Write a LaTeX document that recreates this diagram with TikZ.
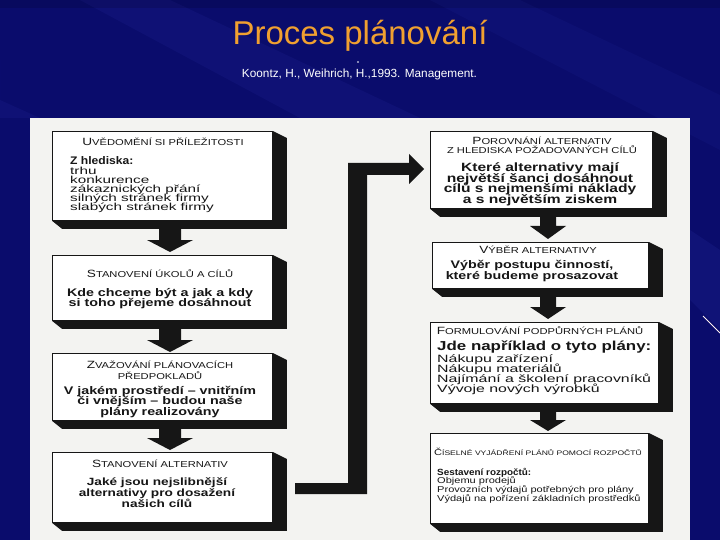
\documentclass[tikz,border=0pt]{standalone}
\usepackage{fontspec}
\setmainfont{Liberation Sans}
\newfontfamily\bxf[FakeStretch=1.3]{Liberation Sans}
\newfontfamily\bxw[FakeStretch=1.5]{Liberation Sans}
\newfontfamily\bxn[FakeStretch=1.1]{Liberation Sans}
\definecolor{bgblue}{RGB}{10,12,108}
\definecolor{streak}{RGB}{60,70,200}
\definecolor{titleor}{RGB}{240,160,48}
\definecolor{panel}{RGB}{243,243,241}
\definecolor{ink}{RGB}{22,22,22}
\def\scA{10.5}\def\scB{8.6}
\newcommand\scap[2]{{\fontsize{\scA}{\scA}\selectfont #1}{\fontsize{\scB}{\scB}\selectfont #2}}
\newcommand\mybox[5]{% name l t w h
  \node[box, minimum width=#4, minimum height=#5, anchor=north west] (#1) at (#2,#3) {};
  \fill[shadow] (#1.north east) -- ++(14,7) -- ([shift={(14,8)}]#1.south east)
     -- ([shift={(10,8)}]#1.south west) -- (#1.south west) -- (#1.south east) -- cycle;}
\newcommand\blkarrow[6]{% cx y1 y2 y3 sw hw
  \fill[shadow] ({#1-#5},#2) -- ({#1+#5},#2) -- ({#1+#5},#3) -- ({#1+#6},#3) -- (#1,#4)
     -- ({#1-#6},#3) -- ({#1-#5},#3) -- cycle;}
\begin{document}
\begin{tikzpicture}[x=1pt,y=-1pt,
  box/.style={draw=ink, line width=0.8pt, fill=white, inner sep=0},
  shadow/.style={fill=ink},
  ttl/.style={font=\bxf, text=ink, anchor=base, inner sep=0},
  bl/.style={anchor=base west, inner sep=0, text=ink},
  bc/.style={anchor=base, inner sep=0, text=ink}]
\useasboundingbox (0,0) rectangle (720,540);
% background
\fill[bgblue] (0,0) rectangle (720,540);
\fill[streak, opacity=0.10] (80,0) -- (170,0) -- (420,118) -- (300,118) -- cycle;
\fill[streak, opacity=0.08] (430,0) -- (520,0) -- (720,95) -- (720,150) -- cycle;
\fill[streak, opacity=0.10] (0,60) -- (0,100) -- (40,118) -- (0,118) -- cycle;
\fill[streak, opacity=0.12] (690,230) -- (720,250) -- (720,330) -- (690,300) -- cycle;
\fill[black, opacity=0.12] (0,0) rectangle (720,8);
\draw[white!80!pink, line width=0.8pt] (703,316) -- (720,333);
% title
\node[font=\fontsize{33}{33}\selectfont, text=titleor, anchor=base, inner sep=0] (title) at (360,45) {Proces plánování};
\node[circle, fill=white, inner sep=0, minimum size=1.8] (dot) at (358,62) {};
\node[font=\fontsize{11.8}{12}\selectfont, text=white, anchor=base, inner sep=0] (sub) at (359.5,78) {Koontz, H., Weihrich, H.,1993. Management.};
% panel
\fill[panel] (30,118) rectangle (690,540);
% boxes
\mybox{L1}{52}{131}{220}{89}
\mybox{L2}{52}{255}{220}{65}
\mybox{L3}{52}{353}{220}{67}
\mybox{L4}{52}{452}{220}{70}
\mybox{R1}{430}{131}{222}{77}
\mybox{R2}{432}{242}{216}{46}
\mybox{R3}{430}{322}{228}{81}
\mybox{R4}{430}{433}{218}{90}
% block arrows
\blkarrow{170}{225}{240}{252}{11}{23}
\blkarrow{170}{328}{340}{352}{11}{23}
\blkarrow{170}{427}{438}{450}{11}{23}
\blkarrow{548}{216}{226}{239}{8}{18}
\blkarrow{548}{297}{307}{319}{8}{18}
\blkarrow{548}{410}{420}{431}{8}{18}
% feedback connector
\coordinate (cs) at (295,483);
\coordinate (ce) at (424,169);
\fill[shadow] (cs) -- (348,483) -- (348,163) -- (409,163) -- (409,154) -- (ce)
  -- (409,184) -- (409,175) -- (367,175) -- (367,494) -- (295,494) -- cycle;
% box 1
\node[ttl] (t1) at (163,146) {\scap{U}{VĚDOMĚNÍ SI PŘÍLEŽITOSTI}};
\node[bl, font={\bxn\bfseries\fontsize{11}{11}\selectfont}] (b1h) at (70,164.5) {Z hlediska:};
\foreach \t [count=\i] in {trhu,konkurence,zákaznických přání,silných stránek firmy,slabých stránek firmy}
  \node[bl, font={\bxw\fontsize{10.2}{10}\selectfont}] (b1l\i) at (70,{165.5+\i*9.1}) {\t};
% box 2
\node[ttl] (t2) at (160,277) {\scap{S}{TANOVENÍ ÚKOLŮ A CÍLŮ}};
\foreach \t [count=\i] in {Kde chceme být a jak a kdy,si toho přejeme dosáhnout}
  \node[bc, font={\bxf\bfseries\fontsize{11}{11}\selectfont}] (b2l\i) at (160,{286+\i*10}) {\t};
% box 3
\node[ttl] (t3a) at (160,368) {\scap{Z}{VAŽOVÁNÍ PLÁNOVACÍCH}};
\node[ttl] (t3b) at (160,379) {\scap{}{PŘEDPOKLADŮ}};
\foreach \t [count=\i] in {V jakém prostředí – vnitřním,či vnějším – budou naše,plány realizovány}
  \node[bc, font={\bxf\bfseries\fontsize{11}{11}\selectfont}] (b3l\i) at (160,{383.5+\i*10.5}) {\t};
% box 4
\node[ttl] (t4) at (160,467) {\scap{S}{TANOVENÍ ALTERNATIV}};
\foreach \t [count=\i] in {Jaké jsou nejslibnější,alternativy pro dosažení,našich cílů}
  \node[bc, font={\bxf\bfseries\fontsize{10.5}{10.5}\selectfont}] (b4l\i) at (157,{474+\i*11}) {\t};
% R1
\node[ttl] (r1a) at (542,145) {\scap{P}{OROVNÁNÍ ALTERNATIV}};
\node[ttl] (r1b) at (542,154) {\scap{}{Z HLEDISKA POŽADOVANÝCH CÍLŮ}};
\foreach \t [count=\i] in {Které alternativy mají,největší šanci dosáhnout,cílů s nejmenšími náklady,a s největším ziskem}
  \node[bc, font={\bxf\bfseries\fontsize{12}{12}\selectfont}] (r1l\i) at (540,{161.5+\i*10.5}) {\t};
% R2
\node[ttl] (r2a) at (538,254) {\scap{V}{ÝBĚR ALTERNATIVY}};
\foreach \t [count=\i] in {{Výběr postupu činností,},které budeme prosazovat}
  \node[bc, font={\bxf\bfseries\fontsize{11}{11}\selectfont}] (r2l\i) at (532,{257+\i*11}) {\t};
% R3
\node[ttl] (r3a) at (540,334) {\scap{F}{ORMULOVÁNÍ PODPŮRNÝCH PLÁNŮ}};
\node[bl, font={\bxf\bfseries\fontsize{13}{13}\selectfont}] (r3h) at (437,350) {Jde například o tyto plány:};
\foreach \t [count=\i] in {Nákupu zařízení,Nákupu materiálů,Najímání a školení pracovníků,Vývoje nových výrobků}
  \node[bl, font={\bxw\fontsize{10.6}{10.6}\selectfont}] (r3l\i) at (437,{351.7+\i*10.3}) {\t};
% R4
{\def\scA{8.5}\def\scB{6.6}
\node[ttl] (r4a) at (538,455) {\scap{Č}{ÍSELNÉ VYJÁDŘENÍ PLÁNŮ POMOCÍ ROZPOČTŮ}};}
\node[bl, font={\bxn\bfseries\fontsize{9}{9}\selectfont}] (r4h) at (437,475) {Sestavení rozpočtů:};
\foreach \t [count=\i] in {Objemu prodejů,Provozních výdajů potřebných pro plány,Výdajů na pořízení základních prostředků}
  \node[bl, font={\bxf\fontsize{8.5}{8.5}\selectfont}] (r4l\i) at (437,{474.5+\i*9}) {\t};
\end{tikzpicture}
\end{document}
